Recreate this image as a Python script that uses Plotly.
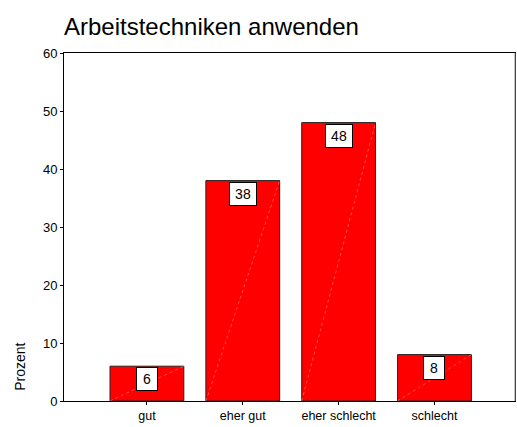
import plotly.graph_objects as go

# Survey results: share of answers per rating
categories = ["gut", "eher gut", "eher schlecht", "schlecht"]
percent = [6, 38, 48, 8]
y_ticks = [0, 10, 20, 30, 40, 50, 60]

title_text = "Arbeitstechniken anwenden"
y_title = "Prozent"

bar_width = 0.77
font_family = "Liberation Sans, Arial, sans-serif"

fig = go.Figure()
fig.add_trace(go.Bar(
    x=list(range(len(categories))),
    y=percent,
    width=bar_width,
    marker=dict(color="#ff0000", line=dict(color="#222222", width=1)),
    hoverinfo="skip",
))

# faint diagonal highlight across each bar
for i, v in enumerate(percent):
    fig.add_shape(
        type="line", xref="x", yref="y",
        x0=i - bar_width / 2, y0=0, x1=i + bar_width / 2, y1=v,
        line=dict(color="rgba(255,170,170,0.9)", width=0.5, dash="dot"),
        layer="above",
    )

# boxed value labels at the top of each bar
for i, v in enumerate(percent):
    fig.add_annotation(
        x=i, y=v, xref="x", yref="y",
        text=f"{v:.0f}", showarrow=False,
        yanchor="top", yshift=-1,
        font=dict(family=font_family, size=14, color="black"),
        bgcolor="white", bordercolor="black", borderwidth=1, borderpad=3,
        width=14 if v < 10 else 20, align="center",
    )

fig.add_annotation(
    text=y_title, xref="paper", yref="paper",
    x=-0.098, y=0.023, xanchor="center", yanchor="bottom",
    textangle=-90, showarrow=False,
    font=dict(family=font_family, size=14, color="black"),
)

# right-hand frame edge in grey
fig.add_shape(
    type="line", xref="paper", yref="paper",
    x0=1, y0=0, x1=1, y1=1,
    line=dict(color="#888888", width=1),
)

fig.update_layout(
    width=517, height=427,
    margin=dict(l=64, r=2, t=53, b=26),
    paper_bgcolor="white", plot_bgcolor="white",
    showlegend=False,
    title=dict(
        text=title_text, x=64 / 517, xanchor="left",
        y=1 - 27 / 427, yanchor="middle",
        font=dict(family=font_family, size=24, color="black"),
    ),
    font=dict(family=font_family, size=12, color="black"),
)

fig.update_xaxes(
    tickmode="array", tickvals=list(range(len(categories))), ticktext=categories,
    range=[-0.865, 3.84],
    showline=True, linecolor="black", linewidth=1, mirror=True,
    ticks="outside", ticklen=3, tickcolor="black",
    showgrid=False, zeroline=False,
    tickfont=dict(family=font_family, size=12.5, color="black"),
)
fig.update_yaxes(
    tickvals=y_ticks, range=[0, 60],
    showline=True, linecolor="black", linewidth=1, mirror=True,
    ticks="outside", ticklen=3, tickcolor="black",
    showgrid=False, zeroline=False,
    tickfont=dict(family=font_family, size=13, color="black"),
)

fig.write_html("out.html")
